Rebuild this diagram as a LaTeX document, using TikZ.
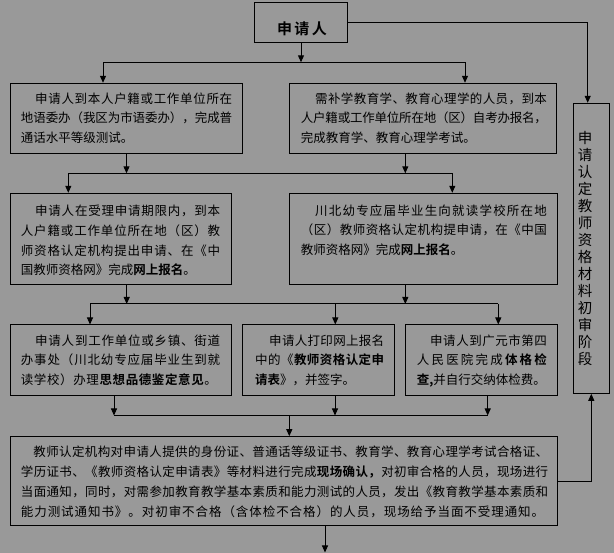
\documentclass[tikz,border=0pt]{standalone}
\usepackage{fontspec}
\setmainfont{Noto Sans CJK SC}[BoldFont={Noto Sans CJK SC Bold}]
\usetikzlibrary{arrows.meta,fit}
\definecolor{bg}{HTML}{999999}
\def\spreadend{\spreadend}
\newcommand\bon{\bfseries}
\newcommand\boff{\mdseries}
\def\spread#1{\spreadfirst#1\spreadend}
\def\spreadfirst#1{#1\spreadaux}
\def\spreadaux#1{\ifx#1\spreadend\else\ifx#1\bon\bfseries\else\ifx#1\boff\mdseries\else\hskip0pt plus1fil minus0.4pt\relax#1\fi\fi\expandafter\spreadaux\fi}
\newcommand\myJ[2]{\hbox to #1{\spread{#2}}}
\newcommand\myI[3]{\hbox to #1{\hskip#2\relax\spread{#3}}}
\newcommand\myN[1]{\hbox{#1}}
\tikzset{
  box/.style={draw=black, line width=1pt, inner sep=0pt},
  arr/.style={-{Triangle[width=6pt,length=7pt]}, line width=1pt},
  ln/.style={line width=1pt},
  txt/.style={anchor=base west, inner sep=0pt, font=\fontsize{12.5pt}{19.8pt}\selectfont},
}
\begin{document}
\begin{tikzpicture}[x=1pt,y=-1pt]
\fill[bg] (0,0) rectangle (614,553);
\useasboundingbox (0,0) rectangle (614,553);
% boxes
\node[box, fit={(254.3,2.3) (347.7,42.3)}] (b0) {};
\node[box, fit={(10.7,83.3) (242.3,153.3)}] (b1) {};
\node[box, fit={(289.3,83.3) (556.7,153.3)}] (b2) {};
\node[box, fit={(10.7,193.3) (231.3,284.3)}] (b3) {};
\node[box, fit={(289.3,193.3) (557.3,284.3)}] (b4) {};
\node[box, fit={(10.7,325) (231.3,395.3)}] (b5) {};
\node[box, fit={(242.7,325) (394.7,395.3)}] (b6) {};
\node[box, fit={(405.7,325) (557.3,395.3)}] (b7) {};
\node[box, fit={(10.7,436.7) (557.2,526)}] (b8) {};
\node[box, fit={(573.3,103.3) (609.3,393.3)}] (bR) {};
% texts
\node[anchor=base, inner sep=0pt, font=\fontsize{15pt}{15pt}\selectfont\bfseries] (t0) at (302,34.7) {申\hspace{2.5pt}请\hspace{2.5pt}人};
\node[txt] (t1) at (20.7,103.1) {\vtop{\baselineskip=19.7pt\lineskiplimit=-100pt
  \myI{211.3pt}{14.3pt}{申请人到本人户籍或工作单位所在}
  \myJ{211.3pt}{地语委办（我区为市语委办），完成普}
  \myN{通话水平等级测试。}}};
\node[txt] (t2) at (300.7,103.1) {\vtop{\baselineskip=19.7pt\lineskiplimit=-100pt
  \myI{246pt}{14.3pt}{需补学教育学、教育心理学的人员，到本}
  \myJ{246pt}{人户籍或工作单位所在地（区）自考办报名，}
  \myN{完成教育学、教育心理学考试。}}};
\node[txt] (t3) at (20.7,215.5) {\vtop{\baselineskip=19.8pt\lineskiplimit=-100pt
  \myI{199.3pt}{14.3pt}{申请人在受理申请期限内，到本}
  \myJ{199.3pt}{人户籍或工作单位所在地（区）教}
  \myJ{199.3pt}{师资格认定机构提出申请、在《中}
  \myN{国教师资格网》完成\bon 网上报名\boff 。}}};
\node[txt] (t4) at (300.7,215.2) {\vtop{\baselineskip=19.8pt\lineskiplimit=-100pt
  \myI{246pt}{14.3pt}{川北幼专应届毕业生向就读学校所在地}
  \myJ{246pt}{（区）教师资格认定机构提申请，在《中国}
  \myN{教师资格网》完成\bon 网上报名\boff 。}}};
\node[txt] (t5) at (20.7,345.5) {\vtop{\baselineskip=19.4pt\lineskiplimit=-100pt
  \myI{199.3pt}{14.3pt}{申请人到工作单位或乡镇、街道}
  \myJ{199.3pt}{办事处（川北幼专应届毕业生到就}
  \myJ{196pt}{读学校）办理\bon 思想品德鉴定意见\boff 。}}};
\node[txt] (t6) at (255,345.5) {\vtop{\baselineskip=19.4pt\lineskiplimit=-100pt
  \myI{129pt}{14pt}{申请人打印网上报名}
  \myJ{129pt}{中的《\bon 教师资格认定申}
  \myN{\bon 请表\boff 》，并签字。}}};
\node[txt] (t7) at (416.7,345.5) {\vtop{\baselineskip=19.4pt\lineskiplimit=-100pt
  \myI{130pt}{13.3pt}{申请人到广元市第四}
  \myJ{130pt}{人民医院完成\bon 体格检}
  \myN{\bon 查,\boff 并自行交纳体检费。}}};
\node[txt] (t8) at (20.7,456.5) {\vtop{\baselineskip=20pt\lineskiplimit=-100pt
  \myI{527.3pt}{12.6pt}{教师认定机构对申请人提供的身份证、普通话等级证书、教育学、教育心理学考试合格证、}
  \myJ{527.3pt}{学历证书、《教师资格认定申请表》等材料进行完成\bon 现场确认，\boff 对初审合格的人员，现场进行}
  \myJ{527.3pt}{当面通知，同时，对需参加教育教学基本素质和能力测试的人员，发出《教育教学基本素质和}
  \myJ{523.3pt}{能力测试通知书》。对初审不合格（含体检不合格）的人员，现场给予当面不受理通知。}}};
\node[anchor=base, inner sep=0pt, font=\fontsize{14.5pt}{17pt}\selectfont] (tR) at (585,143.8) {\vtop{\baselineskip=17pt\lineskiplimit=-100pt
  \hbox{申}\hbox{请}\hbox{认}\hbox{定}\hbox{教}\hbox{师}\hbox{资}\hbox{格}\hbox{材}\hbox{料}\hbox{初}\hbox{审}\hbox{阶}\hbox{段}}};
% connector coordinates
\coordinate (j1l) at (103,62.3);
\coordinate (j1r) at (465,62.3);
\coordinate (rc) at (587.7,22.3);
\coordinate (j2l) at (68.3,173.3);
\coordinate (j2r) at (452.3,173.3);
\coordinate (c2) at (405.3,0);
\coordinate (c3a) at (126.7,0);
\coordinate (j3l) at (90,304);
\coordinate (j3r) at (498.3,304);
\coordinate (c3m) at (335.3,0);
\coordinate (j4l) at (114,415.5);
\coordinate (j4r) at (487.7,415.5);
\coordinate (c4m) at (335,0);
\coordinate (c4c) at (289.3,0);
\coordinate (endb) at (325,552.5);
% level 1
\draw[arr] (b0.south) -- (b0.south |- j1l);
\draw[ln] (j1l) -- (j1r);
\draw[arr] (j1l) -- (j1l |- b1.north);
\draw[arr] (j1r) -- (j1r |- b2.north);
\draw[arr] (b0.east) -- (rc) -- (rc |- bR.north);
% level 2
\draw[arr] (b1.south) -- (b1.south |- j2l);
\draw[arr] (b2.south -| c2) -- (j2l -| c2);
\draw[ln] (j2l) -- (j2r);
\draw[arr] (j2l) -- (j2l |- b3.north);
\draw[arr] (j2r) -- (j2r |- b4.north);
% level 3
\draw[arr] (b3.south -| c3a) -- (j3l -| c3a);
\draw[arr] (b4.south -| c2) -- (j3l -| c2);
\draw[ln] (j3l) -- (j3r);
\draw[arr] (j3l) -- (j3l |- b5.north);
\draw[arr] (j3l -| c3m) -- (b6.north -| c3m);
\draw[arr] (j3r) -- (j3r |- b7.north);
% level 4
\draw[arr] (b5.south -| j4l) -- (j4l);
\draw[arr] (b6.south -| c4m) -- (j4l -| c4m);
\draw[arr] (b7.south -| j4r) -- (j4r);
\draw[ln] (j4l) -- (j4r);
\draw[arr] (j4l -| c4c) -- (b8.north -| c4c);
% final
\draw[arr] (b8.east) -| (bR.south);
\draw[arr] (b8.south -| endb) -- (endb);
\end{tikzpicture}
\end{document}
